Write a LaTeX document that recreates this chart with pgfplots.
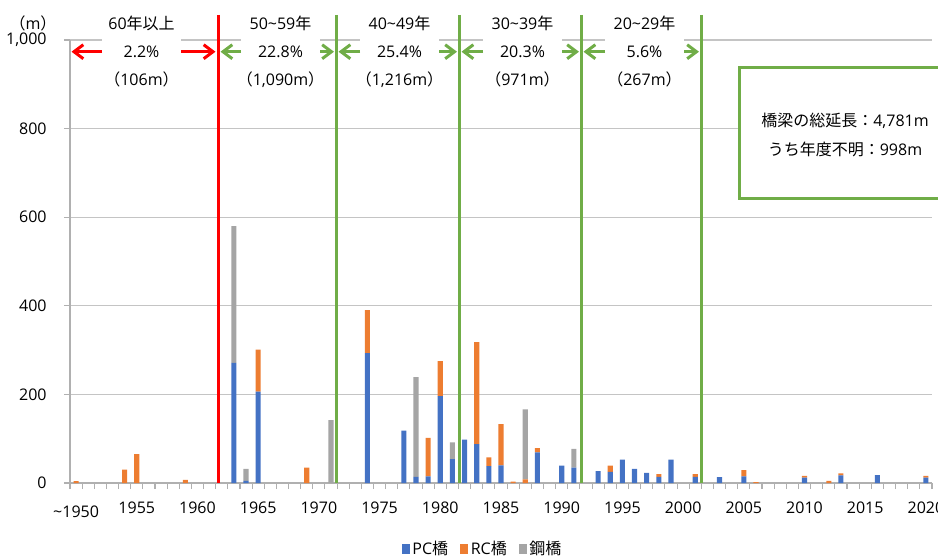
\documentclass[border=0pt]{standalone}
\usepackage{pgfplots}
\pgfplotsset{compat=1.18}
\usepackage{fontspec}
\setmainfont{Open Sans}
\newfontfamily\jp{Noto Sans CJK JP}
\usetikzlibrary{arrows.meta}

\definecolor{pcblue}{HTML}{4472C4}
\definecolor{rcorange}{HTML}{ED7D31}
\definecolor{steelgray}{HTML}{A5A5A5}
\definecolor{secgreen}{HTML}{70AD47}
\definecolor{secred}{HTML}{FF0000}
\definecolor{gridgray}{HTML}{C4C4C4}
\definecolor{axgray}{HTML}{B0B0B0}

% bridge length by construction year (m): PC, RC, steel
\pgfplotstableread{
year pc  rc  steel
1950 0   4   0
1954 0   30  0
1955 0   65  0
1959 0   7   0
1963 271 0   309
1964 5   0   27
1965 206 95  0
1969 0   35  0
1971 0   0   142
1974 293 97  0
1977 118 0   0
1978 14  0   225
1979 15  87  0
1980 196 79  0
1981 54  0   38
1982 98  0   0
1983 88  230 0
1984 38  20  0
1985 40  93  0
1986 0   3   0
1987 0   8   158
1988 69  10  0
1990 39  0   0
1991 35  0   42
1993 27  0   0
1994 25  14  0
1995 53  0   0
1996 32  0   0
1997 23  0   0
1998 14  6   0
1999 53  0   0
2001 14  6   0
2003 13  0   0
2005 15  14  0
2006 0   2   0
2010 12  4   0
2012 0   5   0
2013 17  5   0
2016 18  0   0
2020 12  4   0
}\bridges

\begin{document}
\begin{tikzpicture}[font=\fontsize{12}{14}\selectfont]
\begin{axis}[
  name=ax, at={(0,0)}, anchor=south west,
  scale only axis, width=646.5pt, height=332.25pt,
  xmin=1949.5, xmax=2020.5, ymin=0, ymax=1000,
  ybar stacked, bar width=0.42,
  axis lines*=left,
  axis line style={draw=axgray, line width=0.8pt},
  ymajorgrids, grid style={draw=gridgray, line width=0.8pt},
  ytick={0,200,...,1000},
  xtick={1950,1955,...,2020},
  xticklabels={{\raisebox{-2.5pt}[\height]{\textasciitilde1950}},1955,1960,1965,1970,1975,1980,1985,1990,1995,2000,2005,2010,2015,2020},
  major x tick style={draw=none},
  minor xtick={1949.5,1950.5,...,2020.5},
  minor x tick style={draw=axgray, line width=0.8pt},
  major y tick style={draw=axgray, line width=0.8pt},
  tick align=outside,
  major tick length=4.5pt, minor tick length=4.5pt,
  /pgf/number format/1000 sep={,},
  /pgf/number format/assume math mode=true,
  xticklabel style={yshift=-6.5pt},
  yticklabel style={xshift=-9.5pt},
  clip=false,
  legend style={at={(0.479,-0.149)}, anchor=center, draw=none, fill=none,
    legend columns=3, inner sep=0pt,
    /tikz/every even column/.append style={column sep=7pt}},
  legend image code/.code={\fill[#1] (0pt,-4pt) rectangle (6pt,4pt);},
  legend cell align=left,
]
\addplot[fill=pcblue, draw=none] table[x=year, y=pc] {\bridges};
\addplot[fill=rcorange, draw=none] table[x=year, y=rc] {\bridges};
\addplot[fill=steelgray, draw=none] table[x=year, y=steel] {\bridges};
\legend{PC{\jp 橋},RC{\jp 橋},{\jp 鋼橋}}
\end{axis}

% age bands above the bars, in the picture's own 938 x 558 grid
\begin{scope}[shift={(-52.5pt,362.25pt)}, x=0.75pt, y=-0.75pt]
  \node at (33,23) {{\jp （}m{\jp ）}};
  % band boundaries
  \draw[secred, line width=2.25pt] (218,15) -- (218,483);
  \foreach \bx in {336,459,581,701}
    \draw[secgreen, line width=2.25pt] (\bx,15) -- (\bx,483);
  % white panels behind the band captions
  \foreach \cx in {141.5,280.5,399.5,522.5,644.5}
    \fill[white] (\cx-39.5,30) rectangle (\cx+39.5,95);
  % arrows
  \begin{scope}[line width=2.25pt, -{Straight Barb[length=7pt,width=10.5pt]}]
    \draw[secred] (102,51.7) -- (71.5,51.7);
    \draw[secred] (181,51.7) -- (215.5,51.7);
    \draw[secgreen] (241,51.7) -- (220.5,51.7);
    \draw[secgreen] (320,51.7) -- (334,51.7);
    \draw[secgreen] (360,51.7) -- (338.5,51.7);
    \draw[secgreen] (439,51.7) -- (457,51.7);
    \draw[secgreen] (483,51.7) -- (461.5,51.7);
    \draw[secgreen] (562,51.7) -- (579,51.7);
    \draw[secgreen] (605,51.7) -- (583.5,51.7);
    \draw[secgreen] (684,51.7) -- (699,51.7);
  \end{scope}
  % captions
  \node at (141.5,23.3) {60{\jp 年以上}};
  \node at (141.5,51.7) {2.2\%};
  \node at (141.5,79.3) {{\jp （}106m{\jp ）}};
  \node at (280.5,23.3) {50\textasciitilde59{\jp 年}};
  \node at (280.5,51.7) {22.8\%};
  \node at (280.5,79.3) {{\jp （}1,090m{\jp ）}};
  \node at (399.5,23.3) {40\textasciitilde49{\jp 年}};
  \node at (399.5,51.7) {25.4\%};
  \node at (399.5,79.3) {{\jp （}1,216m{\jp ）}};
  \node at (522.5,23.3) {30\textasciitilde39{\jp 年}};
  \node at (522.5,51.7) {20.3\%};
  \node at (522.5,79.3) {{\jp （}971m{\jp ）}};
  \node at (644.5,23.3) {20\textasciitilde29{\jp 年}};
  \node at (644.5,51.7) {5.6\%};
  \node at (644.5,79.3) {{\jp （}267m{\jp ）}};
  % total length panel
  \draw[secgreen, line width=2.25pt, fill=white] (945,67) -- (739,67) -- (739,198) -- (945,198);
  \node at (845,121) {{\jp 橋梁の総延長：}4,781m};
  \node at (845,149.5) {{\jp うち年度不明：}998m};
\end{scope}

\pgfresetboundingbox
\path[use as bounding box] (-52.5pt,-56.25pt) rectangle (651pt,362.25pt);
\end{tikzpicture}
\end{document}
